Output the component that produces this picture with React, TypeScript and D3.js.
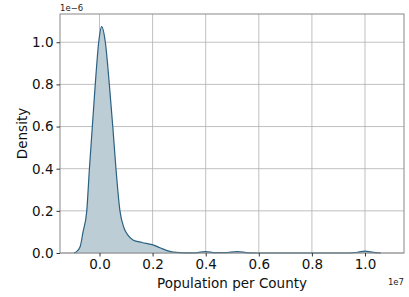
import * as d3 from "d3";
import { useEffect, useRef } from "react";

// population per county, in units of 1e7
const popX = [
  -0.096, -0.088, -0.073, -0.062, -0.048, -0.038, -0.027, -0.016, -0.003, 0.008,
  0.022, 0.037, 0.05, 0.062, 0.077, 0.092, 0.107, 0.126, 0.16, 0.198,
  0.228, 0.258, 0.288, 0.32, 0.36, 0.4, 0.435, 0.47, 0.52, 0.56,
  0.64, 0.94, 0.975, 1.0, 1.025, 1.06,
];
// kde density, in units of 1e-6
const density = [
  0, 0.005, 0.03, 0.1, 0.2, 0.4, 0.6, 0.8, 1.0, 1.074,
  1.0, 0.8, 0.6, 0.4, 0.2, 0.12, 0.085, 0.062, 0.05, 0.04,
  0.025, 0.01, 0.003, 0.001, 0.001, 0.007, 0.002, 0.002, 0.007, 0.001,
  0, 0, 0.004, 0.009, 0.004, 0,
];
const xTicks = [0, 0.2, 0.4, 0.6, 0.8, 1.0];
const yTicks = [0, 0.2, 0.4, 0.6, 0.8, 1.0];

export default function App() {
  const ref = useRef<SVGSVGElement>(null);

  useEffect(() => {
    const svg = d3.select(ref.current);
    svg.selectAll("*").remove();

    const margin = { top: 14, right: 5, bottom: 44, left: 60 };
    const W = 409, H = 297;
    const width = W - margin.left - margin.right;
    const height = H - margin.top - margin.bottom;
    const font = "DejaVu Sans, sans-serif";
    const fs = 13.5;

    const x = d3.scaleLinear().domain([-0.1488, 1.1469]).range([0, width]);
    const y = d3.scaleLinear().domain([0, 1.134]).range([height, 0]);

    const g = svg.append("g").attr("transform", `translate(${margin.left},${margin.top})`);

    // grid
    g.selectAll("line.gx").data(xTicks).join("line")
      .attr("x1", d => x(d)).attr("x2", d => x(d))
      .attr("y1", 0).attr("y2", height)
      .attr("stroke", "#b0b0b0").attr("stroke-width", 0.8);
    g.selectAll("line.gy").data(yTicks).join("line")
      .attr("x1", 0).attr("x2", width)
      .attr("y1", d => y(d)).attr("y2", d => y(d))
      .attr("stroke", "#b0b0b0").attr("stroke-width", 0.8);

    const pts = popX.map((v, i) => [v, density[i]] as [number, number]);
    const area = d3.area<[number, number]>()
      .x(d => x(d[0])).y0(y(0)).y1(d => y(d[1]))
      .curve(d3.curveMonotoneX);
    const line = d3.line<[number, number]>()
      .x(d => x(d[0])).y(d => y(d[1]))
      .curve(d3.curveMonotoneX);

    g.append("path").datum(pts).attr("d", area)
      .attr("fill", "#bccdd6");
    g.append("path").datum(pts).attr("d", line)
      .attr("fill", "none").attr("stroke", "#2b6180").attr("stroke-width", 1.2);

    // frame
    g.append("rect").attr("width", width).attr("height", height)
      .attr("fill", "none").attr("stroke", "#888").attr("stroke-width", 1);

    // axes
    const xAxis = g.append("g").attr("transform", `translate(0,${height})`)
      .call(d3.axisBottom(x).tickValues(xTicks).tickFormat(d3.format(".1f")).tickSizeOuter(0).tickSize(3.5).tickPadding(3));
    const yAxis = g.append("g")
      .call(d3.axisLeft(y).tickValues(yTicks).tickFormat(d3.format(".1f")).tickSizeOuter(0).tickSize(3.5).tickPadding(3));
    [xAxis, yAxis].forEach(a => {
      a.select(".domain").remove();
      a.selectAll("text").attr("font-family", font).attr("font-size", fs).attr("fill", "#111");
      a.selectAll("line").attr("stroke", "#333");
    });

    svg.append("text").attr("x", margin.left + width / 2).attr("y", 288)
      .attr("text-anchor", "middle").attr("font-family", font).attr("font-size", fs)
      .attr("fill", "#111").text("Population per County");
    svg.append("text").attr("transform", `translate(27,${margin.top + height / 2}) rotate(-90)`)
      .attr("text-anchor", "middle").attr("font-family", font).attr("font-size", fs)
      .attr("fill", "#111").text("Density");
    svg.append("text").attr("x", W - 5).attr("y", 285)
      .attr("text-anchor", "end").attr("font-family", font).attr("font-size", 8.5)
      .attr("fill", "#222").text("1e7");
    svg.append("text").attr("x", margin.left).attr("y", 11)
      .attr("font-family", font).attr("font-size", 8.5)
      .attr("fill", "#222").text("1e\u22126");
  }, []);

  return (
    <div style={{ position: "absolute", left: 0, top: 0 }}>
      <svg ref={ref} width={409} height={297} style={{ display: "block" }} />
    </div>
  );
}
